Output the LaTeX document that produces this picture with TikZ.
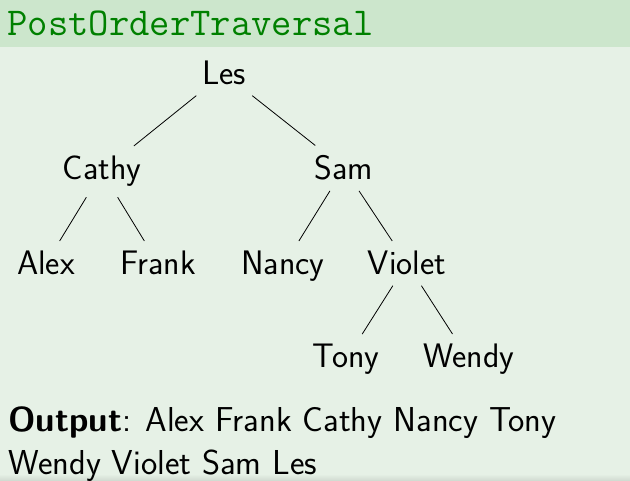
\documentclass[tikz,border=0pt]{standalone}
\usepackage{tikz}
\definecolor{titlebg}{RGB}{204,230,204}
\definecolor{bodybg}{RGB}{230,241,230}
\definecolor{titlefg}{RGB}{0,128,0}

\begin{document}
\begin{tikzpicture}[x=1pt,y=-1pt,line width=0.8pt,
  name node/.style={anchor=base,inner sep=10pt,font=\sffamily\fontsize{34}{40}\selectfont}]

  % block background
  \fill[bodybg] (0,0) rectangle (630,481);
  \fill[titlebg] (0,0) rectangle (630,47);
  \shade[top color=bodybg,bottom color=bodybg!90!black] (0,474) rectangle (630,481);
  \useasboundingbox (0,0) rectangle (630,481);

  \node[anchor=base west,inner sep=0,text=titlefg,font=\ttfamily\fontsize{39.5}{40}\selectfont] (title) at (7,36) {PostOrderTraversal};

  \node[name node] (les) at (224,85) {Les};
  \node[name node] (cathy) at (102,180) {Cathy};
  \node[name node] (sam) at (344,180) {Sam};
  \node[name node] (alex) at (46,275) {Alex};
  \node[name node] (frank) at (158,275) {Frank};
  \node[name node] (nancy) at (283,275) {Nancy};
  \node[name node] (violet) at (407,275) {Violet};
  \node[name node] (tony) at (346,368) {Tony};
  \node[name node] (wendy) at (469,368) {Wendy};

  \path[draw]
    (les) edge (cathy)
    (les) edge (sam)
    (cathy) edge (alex)
    (cathy) edge (frank)
    (sam) edge (nancy)
    (sam) edge (violet)
    (violet) edge (tony)
    (violet) edge (wendy)
    ;

  \node[anchor=base west,inner sep=0,align=left,font=\sffamily\fontsize{34.6}{43}\selectfont] (output) at (8,474)
    {\textbf{Output}: Alex Frank Cathy Nancy Tony\\ Wendy Violet Sam Les};
\end{tikzpicture}
\end{document}
